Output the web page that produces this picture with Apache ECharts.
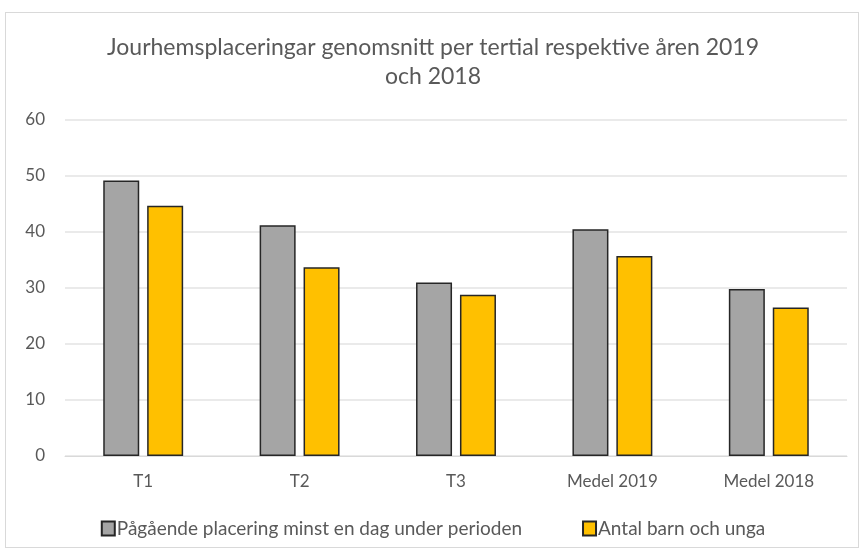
<!DOCTYPE html>
<html>
<head>
<meta charset="utf-8">
<script src="https://cdn.jsdelivr.net/npm/echarts@6/dist/echarts.min.js"></script>
<style>
html, body { margin: 0; padding: 0; background: #fff; }
#frame { position: absolute; left: 5px; top: 12px; width: 854px; height: 536px; border: 1px solid #d9d9d9; box-sizing: border-box; }
#main { width: 866px; height: 555px; }
</style>
</head>
<body>
<div id="frame"></div>
<div id="main"></div>
<script>
var categories = ['T1', 'T2', 'T3', 'Medel 2019', 'Medel 2018'];
var pagaende = [49.2, 41.2, 31.0, 40.5, 29.8];
var antal = [44.7, 33.7, 28.8, 35.7, 26.5];
var seriesNames = ['Pågående placering minst en dag under perioden', 'Antal barn och unga'];

var myChart = echarts.init(document.getElementById('main'));

var font = 'Lato, "Open Sans", sans-serif';

var option = {
    animation: false,
    title: {
        text: 'Jourhemsplaceringar genomsnitt per tertial respektive åren 2019\noch 2018',
        left: 'center',
        top: 28,
        textStyle: {
            fontFamily: font,
            fontWeight: 'normal',
            fontSize: 23,
            color: '#595959',
            lineHeight: 29
        }
    },
    legend: {
        data: seriesNames,
        bottom: 12,
        left: 'center',
        itemWidth: 13,
        itemHeight: 14,
        itemGap: 60,
        icon: 'rect',
        textStyle: {
            fontFamily: font,
            fontSize: 19,
            color: '#595959',
            padding: [0, 0, 0, -3]
        }
    },
    grid: {
        left: 65,
        right: 19,
        top: 120,
        bottom: 99
    },
    xAxis: {
        type: 'category',
        data: categories,
        axisTick: { show: false },
        axisLine: { lineStyle: { color: '#d9d9d9', width: 1 } },
        axisLabel: {
            fontFamily: font,
            fontSize: 17,
            color: '#595959',
            margin: 17
        }
    },
    yAxis: {
        type: 'value',
        min: 0,
        max: 60,
        interval: 10,
        axisLine: { show: false },
        axisTick: { show: false },
        splitLine: { lineStyle: { color: '#e3e3e3', width: 1.5 } },
        axisLabel: {
            fontFamily: font,
            fontSize: 17,
            color: '#595959',
            margin: 20
        }
    },
    series: [
        {
            name: seriesNames[0],
            type: 'bar',
            data: pagaende,
            barWidth: 36,
            barGap: '22%',
            itemStyle: {
                color: '#a5a5a5',
                borderColor: '#262626',
                borderWidth: 1.5
            }
        },
        {
            name: seriesNames[1],
            type: 'bar',
            data: antal,
            barWidth: 36,
            itemStyle: {
                color: '#ffc000',
                borderColor: '#262626',
                borderWidth: 1.5
            }
        }
    ]
};

myChart.setOption(option);
</script>
</body>
</html>
